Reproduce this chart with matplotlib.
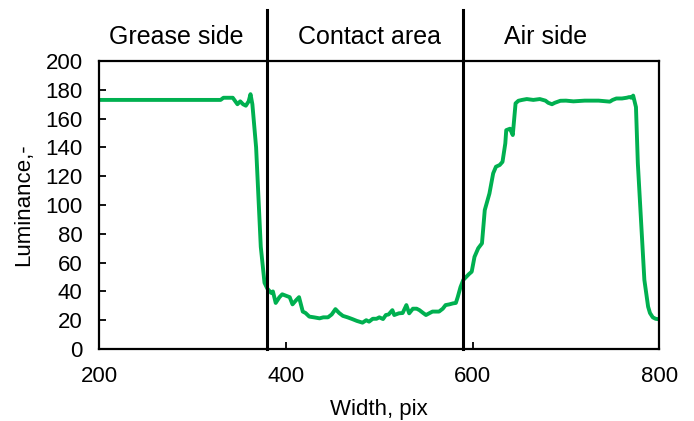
import matplotlib
matplotlib.use('Agg')
from matplotlib import pyplot as plt
import matplotlib.transforms as mtransforms

plt.rcParams['font.family'] = ['Liberation Sans', 'DejaVu Sans']

# luminance profile
width_pix = [200, 330, 333, 343, 348, 351, 354, 357, 360, 362, 364, 368, 373, 377, 380,
             384, 386, 389, 393, 396, 400, 404, 407, 411, 414, 418, 421, 425, 430, 436,
             440, 445, 449, 453, 457, 461, 466, 471, 476, 482, 486, 489, 493, 497, 500,
             504, 507, 510, 514, 516, 521, 525, 529, 532, 536, 540, 543, 547, 550, 554,
             557, 561, 564, 568, 571, 575, 579, 582, 584, 587, 590, 593, 596, 599, 602,
             606, 610, 613, 618, 622, 625, 629, 632, 635, 636, 640, 643, 646, 649, 653,
             658, 665, 672, 678, 681, 685, 688, 694, 700, 708, 720, 735, 747, 750, 754,
             760, 765, 768, 770, 772, 775, 777, 781, 784, 788, 790, 793, 796, 800]
luminance = [173, 173, 174.5, 174.5, 170, 172, 170, 169, 172, 177, 170, 140, 71, 46, 42,
             39, 40, 32, 36, 38, 37, 36, 31, 34, 36, 26, 25, 22.5, 22, 21.3,
             22, 22, 24, 27.7, 25, 23, 22, 20.8, 19.5, 18.3, 20, 19, 21, 21, 22,
             20.8, 23.6, 24, 27, 23.6, 24.8, 25, 30.5, 24.8, 28, 28, 27, 25, 23.6, 25,
             26, 26, 26, 28, 30.5, 31, 31.7, 32, 36, 43, 48, 50, 52, 53.7, 64,
             70, 73.4, 96.5, 108, 122, 126.6, 127.8, 130, 142.8, 152, 153, 148.6, 170.6, 172.4, 173,
             173.6, 173, 173.6, 172.5, 171, 170, 171, 172.4, 172.5, 172, 172.5, 172.5, 171.8, 173, 174,
             174, 174.5, 175, 174.5, 176, 168, 129, 82.6, 48, 29.4, 25, 22, 21, 20.6]

boundaries = [380, 590]
zone_names = ['Grease side', 'Contact area', 'Air side']
zone_centers = [282, 489, 678]

fig = plt.figure(figsize=(6.94, 4.21), dpi=100)
ax = fig.add_axes([0.1431, 0.171, 0.8069, 0.684])

ax.plot(width_pix, luminance, color='#00B050', linewidth=2.8, solid_joinstyle='round')

# zone separators run up past the top of the frame
for b in boundaries:
    ax.axvline(b, ymin=0, ymax=1.177, color='black', linewidth=2.2, clip_on=False)

trans = mtransforms.blended_transform_factory(ax.transData, ax.transAxes)
for name, xc in zip(zone_names, zone_centers):
    ax.text(xc, 1.085, name, transform=trans, ha='center', va='center', fontsize=18)

ax.set_xlim(200, 800)
ax.set_ylim(0, 200)
ax.set_xticks([200, 400, 600, 800])
ax.set_yticks(range(0, 201, 20))
ax.tick_params(direction='in', length=5, width=1.3, labelsize=16, pad=12)
for s in ax.spines.values():
    s.set_linewidth(1.6)

ax.set_xlabel('Width, pix', fontsize=16, labelpad=9)
ax.set_ylabel('Luminance,-', fontsize=16, labelpad=8)

plt.savefig('out.png', dpi=100)
